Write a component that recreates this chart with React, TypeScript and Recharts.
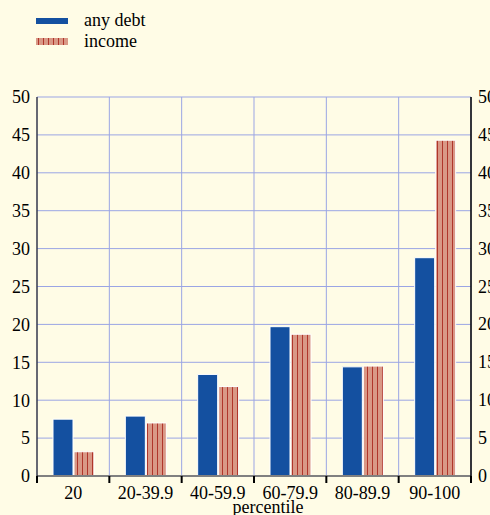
import React from 'react';
import { ComposedChart, Bar, Line, XAxis, YAxis, CartesianGrid, Label } from 'recharts';

const categories = ['20', '20-39.9', '40-59.9', '60-79.9', '80-89.9', '90-100'];
const anyDebt = [7.5, 7.9, 13.4, 19.7, 14.4, 28.8];
const income = [3.2, 7.0, 11.8, 18.7, 14.5, 44.3];
const yTicks = [0, 5, 10, 15, 20, 25, 30, 35, 40, 45, 50];

const data = categories.map((c, i) => ({ name: c, debt: anyDebt[i], income: income[i] }));

const W = 490;
const H = 515;
const LEFT_W = 37;
const RIGHT_W = 19;
const BAND = (W - LEFT_W - RIGHT_W) / categories.length;

const BG = '#fffce6';
const BLUE = '#1450a0';
const SALMON = '#d99886';
const STRIPE = '#b0352a';
const GRID = '#9ba5e4';
const FONT = '"Liberation Serif", "Times New Roman", serif';

const XTick = (props: any) => {
  const { x, y, payload, index } = props;
  const half = payload && payload.offset ? payload.offset : BAND / 2;
  return (
    <g>
      <line x1={x - half} y1={y} x2={x - half} y2={y + 7} stroke="#000" strokeWidth={2} />
      {index === categories.length - 1 && (
        <line x1={x + half} y1={y} x2={x + half} y2={y + 7} stroke="#000" strokeWidth={2} />
      )}
      <text x={x} y={y + 23} textAnchor="middle" fill="#000" fontSize={18} fontFamily={FONT}>
        {payload.value}
      </text>
    </g>
  );
};

const RightTick = (props: any) => {
  const { x, y, payload } = props;
  return (
    <text x={x} y={y} dy={6} textAnchor="start" fill="#000" fontSize={18} fontFamily={FONT}>
      {payload.value}
    </text>
  );
};

const ChartLegend = () => (
  <div style={{ position: 'absolute', left: 36, top: 10, fontFamily: FONT, fontSize: 18, color: '#000', lineHeight: '21px' }}>
    <div style={{ display: 'flex', alignItems: 'center', height: 21 }}>
      <span style={{ display: 'inline-block', width: 32, height: 6, background: BLUE, marginRight: 16 }} />
      any debt
    </div>
    <div style={{ display: 'flex', alignItems: 'center', height: 21 }}>
      <svg width={32} height={7} style={{ marginRight: 16 }}>
        <defs>
          <pattern id="stripesLegend" width={5} height={7} patternUnits="userSpaceOnUse">
            <rect width={5} height={7} fill={SALMON} />
            <rect x={2} width={1} height={7} fill={STRIPE} />
          </pattern>
        </defs>
        <rect x={0} y={0} width={32} height={7} fill="url(#stripesLegend)" />
      </svg>
      income
    </div>
  </div>
);

export default function App() {
  return (
    <div style={{ width: W, height: H, background: BG, position: 'relative' }}>
      <style>{`body{margin:0;background:${BG};}`}</style>
      <ChartLegend />
      <ComposedChart
        width={W}
        height={H}
        data={data}
        margin={{ top: 97, right: 0, left: 0, bottom: 0 }}
        barSize={20}
        barGap={1}
      >
        <defs>
          <pattern id="stripes" width={5} height={10} patternUnits="userSpaceOnUse">
            <rect width={5} height={10} fill={SALMON} />
            <rect x={2} width={1} height={10} fill={STRIPE} />
          </pattern>
        </defs>
        <CartesianGrid
          yAxisId="left"
          stroke={GRID}
          strokeWidth={1}
          verticalCoordinatesGenerator={({ offset }: any) =>
            categories.map((_, i) => offset.left + (offset.width / categories.length) * i).concat(offset.left + offset.width)
          }
        />
        <XAxis
          dataKey="name"
          interval={0}
          height={39}
          tickLine={false}
          tickSize={0}
          tickMargin={0}
          stroke="#808080"
          strokeWidth={2}
          tick={<XTick />}
        >
          <Label
            content={({ viewBox }: any) => (
              <text
                x={viewBox.x + viewBox.width / 2 + 14}
                y={viewBox.y + 37}
                textAnchor="middle"
                fill="#000"
                fontSize={18}
                fontFamily={FONT}
              >
                percentile
              </text>
            )}
          />
        </XAxis>
        <YAxis
          yAxisId="left"
          width={LEFT_W}
          domain={[0, 50]}
          ticks={yTicks}
          interval={0}
          tickLine={false}
          tickSize={0}
          tickMargin={7}
          stroke="#000"
          tick={{ fill: '#000', fontSize: 18, fontFamily: FONT }}
        />
        <YAxis
          yAxisId="right"
          orientation="right"
          width={RIGHT_W}
          domain={[0, 50]}
          ticks={yTicks}
          interval={0}
          tickLine={false}
          tickSize={0}
          tickMargin={7}
          stroke="#000"
          strokeWidth={1.5}
          tick={<RightTick />}
        />
        <Bar yAxisId="left" dataKey="debt" name="any debt" fill={BLUE} stroke="#ffffff" strokeWidth={1} isAnimationActive={false} />
        <Bar yAxisId="left" dataKey="income" name="income" fill="url(#stripes)" stroke="#ffffff" strokeWidth={1} isAnimationActive={false} />
        <Line
          yAxisId="right"
          dataKey="income"
          stroke="none"
          dot={false}
          activeDot={false}
          legendType="none"
          isAnimationActive={false}
        />
      </ComposedChart>
    </div>
  );
}
